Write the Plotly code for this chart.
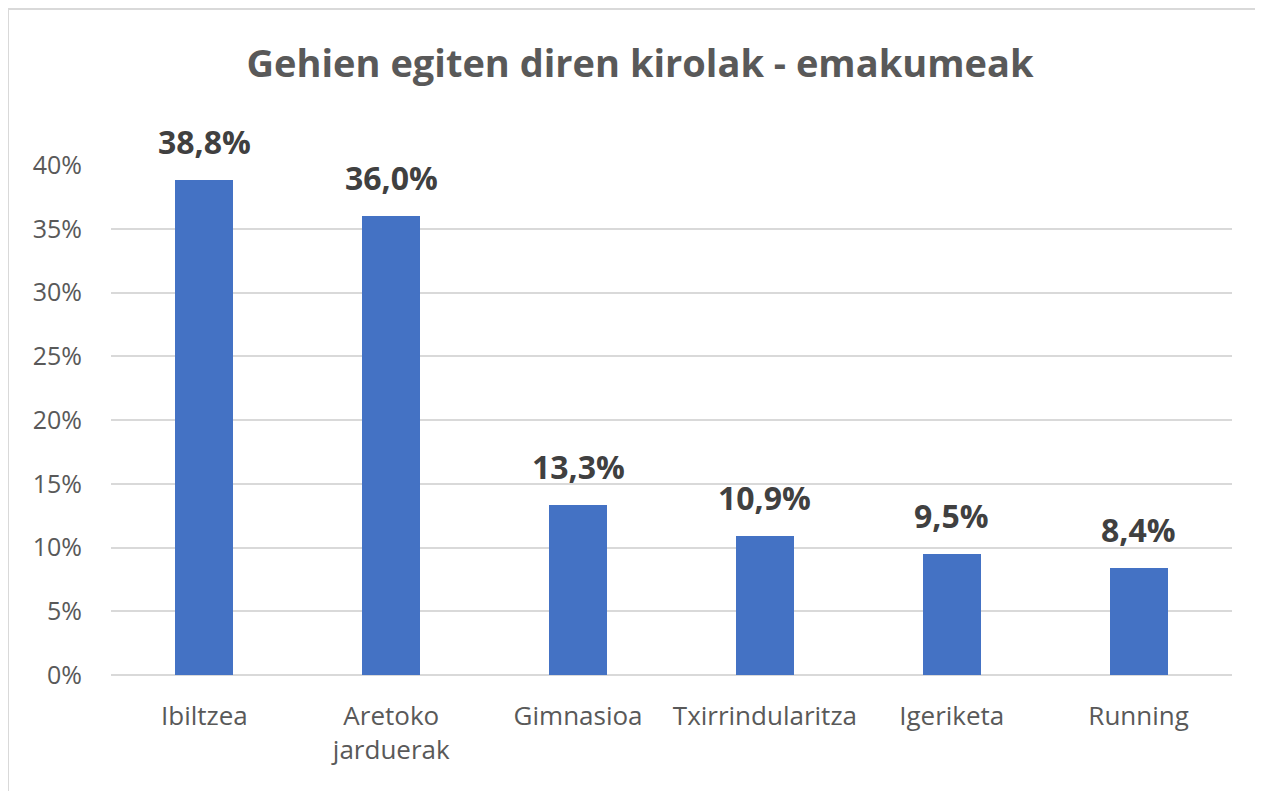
import plotly.graph_objects as go

categories = ["Ibiltzea", "Aretoko<br>jarduerak", "Gimnasioa", "Txirrindularitza", "Igeriketa", "Running"]
values = [38.8, 36.0, 13.3, 10.9, 9.5, 8.4]
labels = ["38,8%", "36,0%", "13,3%", "10,9%", "9,5%", "8,4%"]
tick_vals = [0, 5, 10, 15, 20, 25, 30, 35, 40]
tick_text = ["0%", "5%", "10%", "15%", "20%", "25%", "30%", "35%", "40%"]

FONT = "Open Sans"

fig = go.Figure()
fig.add_trace(go.Bar(
    x=categories, y=values,
    marker=dict(color="#4472C4", line=dict(width=0)),
    width=0.31,
    hoverinfo="skip",
))

for c, v, t in zip(categories, values, labels):
    fig.add_annotation(
        x=c, y=v, text=t, showarrow=False,
        yanchor="bottom", yshift=15,
        font=dict(family=FONT, size=32, color="#404040", weight="bold"),
    )

# page has an 8px body margin; size the figure so the page does not overflow the window
W, H = 1247, 783
L, R, T, B = 103, 23, 157, 116
pw, ph = W - L - R, H - T - B

border = dict(color="#D9D9D9", width=2)
fig.update_layout(
    width=W, height=H,
    margin=dict(l=L, r=R, t=T, b=B),
    paper_bgcolor="white", plot_bgcolor="white",
    showlegend=False,
    bargap=0,
    title=dict(
        text="Gehien egiten diren kirolak - emakumeak",
        x=632 / W, xanchor="center", y=1 - 56 / H, yanchor="middle",
        font=dict(family=FONT, size=38, color="#595959", weight="bold"),
    ),
    xaxis=dict(
        showgrid=False, showline=False, zeroline=False,
        tickfont=dict(family=FONT, size=26, color="#595959"),
        ticks="outside", ticklen=18, tickcolor="rgba(0,0,0,0)",
    ),
    yaxis=dict(
        range=[0, 40], tickvals=tick_vals, ticktext=tick_text,
        showgrid=True, gridcolor="#D9D9D9", gridwidth=1.5,
        zeroline=True, zerolinecolor="#D9D9D9", zerolinewidth=1.5,
        showline=False,
        tickfont=dict(family=FONT, size=25, color="#595959"),
        ticks="outside", ticklen=23, tickcolor="rgba(0,0,0,0)",
    ),
    shapes=[
        dict(type="line", xref="paper", yref="paper",
             x0=(0 - L) / pw, x1=(W - L) / pw,
             y0=1 + (T - 1) / ph, y1=1 + (T - 1) / ph,
             line=border, layer="below"),
        dict(type="line", xref="paper", yref="paper",
             x0=(0 - L) / pw, x1=(0 - L) / pw,
             y0=-B / ph, y1=1 + (T - 1) / ph,
             line=border, layer="below"),
    ],
)

fig.write_html("out.html")
